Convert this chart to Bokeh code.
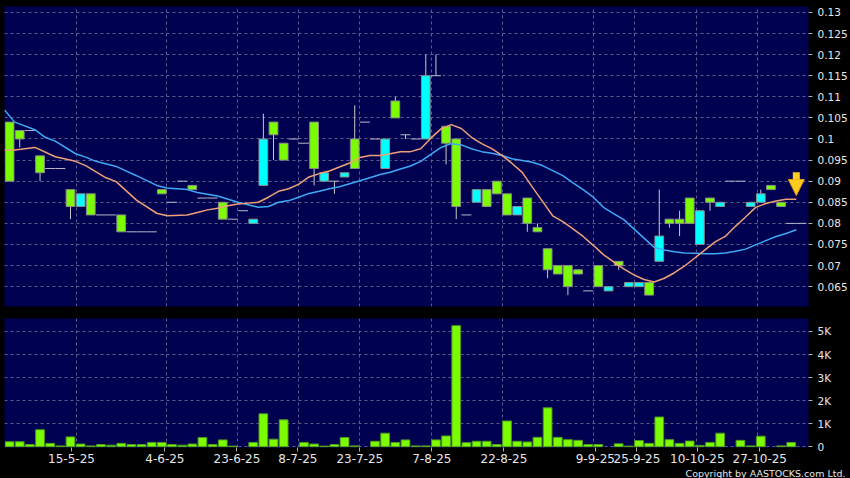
from bokeh.plotting import figure
from bokeh.layouts import column
from bokeh.models import Range1d, FixedTicker, ColumnDataSource, Title, Arrow, NormalHead
from bokeh.embed import file_html
from bokeh.resources import INLINE

# ---------------- data ----------------
open_ = [0.104, 0.102, 0.102, 0.096, 0.093, 0.093, 0.088, 0.084, 0.087, 0.082,
         0.082, 0.082, 0.078, 0.078, 0.078, 0.088, 0.085, 0.090, 0.089, 0.086,
         0.086, 0.085, 0.081, 0.083, 0.080, 0.089, 0.104, 0.099, 0.100, 0.099,
         0.104, 0.090, 0.090, 0.091, 0.100, 0.104, 0.100, 0.093, 0.109, 0.101,
         0.100, 0.100, 0.115, 0.103, 0.100, 0.082, 0.085, 0.088, 0.090, 0.087,
         0.082, 0.086, 0.079, 0.074, 0.070, 0.070, 0.069, 0.064, 0.070, 0.064,
         0.071, 0.065, 0.065, 0.066, 0.071, 0.081, 0.081, 0.086, 0.075, 0.086,
         0.084, 0.090, 0.090, 0.084, 0.085, 0.089, 0.085, 0.080, 0.080]
high_ = [0.104, 0.102, 0.102, 0.096, 0.093, 0.093, 0.088, 0.087, 0.087, 0.082,
         0.082, 0.082, 0.078, 0.078, 0.078, 0.088, 0.085, 0.090, 0.089, 0.086,
         0.086, 0.085, 0.081, 0.083, 0.081, 0.106, 0.104, 0.099, 0.100, 0.099,
         0.104, 0.092, 0.090, 0.092, 0.108, 0.104, 0.100, 0.100, 0.110, 0.101,
         0.100, 0.120, 0.120, 0.103, 0.100, 0.082, 0.088, 0.088, 0.090, 0.087,
         0.084, 0.086, 0.080, 0.074, 0.070, 0.070, 0.069, 0.064, 0.070, 0.065,
         0.071, 0.066, 0.066, 0.066, 0.088, 0.081, 0.083, 0.086, 0.083, 0.086,
         0.085, 0.090, 0.090, 0.085, 0.088, 0.089, 0.085, 0.080, 0.080]
low_ = [0.090, 0.098, 0.102, 0.090, 0.093, 0.093, 0.081, 0.084, 0.082, 0.082,
        0.082, 0.078, 0.078, 0.078, 0.078, 0.087, 0.085, 0.090, 0.088, 0.086,
        0.086, 0.081, 0.081, 0.083, 0.080, 0.089, 0.095, 0.095, 0.100, 0.099,
        0.089, 0.090, 0.087, 0.091, 0.093, 0.104, 0.100, 0.093, 0.105, 0.100,
        0.100, 0.100, 0.115, 0.094, 0.081, 0.082, 0.085, 0.084, 0.087, 0.082,
        0.082, 0.078, 0.078, 0.067, 0.068, 0.063, 0.068, 0.064, 0.065, 0.064,
        0.069, 0.065, 0.065, 0.063, 0.071, 0.079, 0.077, 0.080, 0.075, 0.083,
        0.084, 0.090, 0.090, 0.084, 0.085, 0.088, 0.084, 0.080, 0.080]
close_ = [0.090, 0.100, 0.102, 0.092, 0.093, 0.093, 0.084, 0.087, 0.082, 0.082,
          0.082, 0.078, 0.078, 0.078, 0.078, 0.087, 0.085, 0.090, 0.088, 0.086,
          0.086, 0.081, 0.081, 0.083, 0.081, 0.100, 0.101, 0.095, 0.100, 0.099,
          0.093, 0.092, 0.090, 0.092, 0.093, 0.104, 0.100, 0.100, 0.105, 0.101,
          0.100, 0.115, 0.115, 0.099, 0.084, 0.082, 0.088, 0.084, 0.087, 0.082,
          0.084, 0.080, 0.078, 0.069, 0.068, 0.065, 0.068, 0.064, 0.065, 0.065,
          0.070, 0.066, 0.066, 0.063, 0.077, 0.080, 0.080, 0.080, 0.083, 0.085,
          0.085, 0.090, 0.090, 0.085, 0.087, 0.088, 0.084, 0.080, 0.080]
volume = [220, 220, 100, 740, 150, 40, 430, 120, 40, 100,
          70, 150, 100, 100, 190, 190, 100, 70, 120, 400,
          100, 300, 30, 0, 190, 1430, 330, 1170, 0, 190,
          120, 30, 100, 400, 40, 0, 240, 590, 190, 300,
          40, 40, 300, 470, 5250, 180, 240, 240, 100, 1120,
          240, 210, 410, 1690, 410, 310, 280, 100, 100, 0,
          130, 30, 270, 150, 1290, 310, 150, 250, 60, 190,
          590, 0, 280, 40, 460, 0, 40, 190, 0]

# moving averages (read at session boundaries)
ma_short_idx = [-1, 0, 2, 4, 6, 7, 9, 10, 12, 14, 15, 17, 18,
                19, 20, 21, 22, 23, 24, 25, 26, 27, 28, 29, 30, 31,
                33, 34, 35, 36, 37, 38, 39, 40, 41, 42, 43, 44, 45, 46, 47, 48, 49, 50,
                51, 52, 53, 54, 55, 56, 57, 58, 59, 60, 61, 62, 63, 64, 65, 66, 67, 68,
                69, 70, 71, 72, 73, 74, 75, 76, 77]
ma_short = [0.0974, 0.0974, 0.0980, 0.0958, 0.0947, 0.0937, 0.0908, 0.0899, 0.0855, 0.0824, 0.0818, 0.0820, 0.0826,
            0.0832, 0.0836, 0.0842, 0.0846, 0.0848, 0.0850, 0.0862, 0.0876, 0.0882, 0.0893, 0.0910, 0.0918, 0.0924,
            0.0943, 0.0956, 0.0961, 0.0961, 0.0965, 0.0970, 0.0970, 0.0977, 0.1002, 0.1024, 0.1034, 0.1025, 0.1004,
            0.0989, 0.0977, 0.0961, 0.0942, 0.0921, 0.0886, 0.0852, 0.0818, 0.0804, 0.0787, 0.0769, 0.0748, 0.0726,
            0.0709, 0.0692, 0.0678, 0.0667, 0.0661, 0.0670, 0.0683, 0.0699, 0.0718, 0.0737, 0.0756, 0.0769, 0.0793,
            0.0815, 0.0838, 0.0847, 0.0853, 0.0857, 0.0857]
ma_long_idx = [-1, 0, 2, 3, 4, 6, 7, 8, 10, 12, 14, 15, 17, 18, 20, 22, 24,
               25, 26, 27, 28, 29, 30, 31, 32, 33, 34, 35, 36, 37, 38, 39, 40,
               42, 43, 44, 45, 46, 47, 48, 49, 50, 51, 52, 53, 54, 55, 56, 57, 58, 59,
               60, 61, 62, 63, 64, 65, 66, 67, 68, 69, 70, 71, 72, 73, 74, 75, 76, 77]
ma_long = [0.1069, 0.1040, 0.1022, 0.1004, 0.0995, 0.0965, 0.0957, 0.0947, 0.0935, 0.0913, 0.0890, 0.0884,
           0.0880, 0.0873, 0.0865, 0.0850, 0.0838,
           0.0840, 0.0850, 0.0854, 0.0862, 0.0871, 0.0876, 0.0882, 0.0887, 0.0894, 0.0901, 0.0908, 0.0916,
           0.0921, 0.0929, 0.0936, 0.0947,
           0.0980, 0.0989, 0.0986, 0.0977, 0.0970, 0.0966, 0.0961, 0.0953, 0.0949, 0.0945, 0.0937, 0.0925,
           0.0913, 0.0896, 0.0880, 0.0862, 0.0838, 0.0823, 0.0809, 0.0787, 0.0765, 0.0743, 0.0737, 0.0733,
           0.0730, 0.0729, 0.0728, 0.0728, 0.0730, 0.0734, 0.0739, 0.0749, 0.0759, 0.0769, 0.0776, 0.0785]

date_labels = ["15-5-25", "4-6-25", "23-6-25", "8-7-25", "23-7-25", "7-8-25",
               "22-8-25", "9-9-25", "25-9-25", "10-10-25", "27-10-25"]
date_tick_pos = [6.1, 15.3, 22.4, 28.4, 34.5, 41.6, 48.7, 57.7, 61.8, 67.75, 73.9]
grid_pos = [6.55, 15.5, 22.5, 28.5, 34.5, 41.55, 48.6, 57.55, 61.6, 67.65, 73.65]

price_ticks = [0.065, 0.07, 0.075, 0.08, 0.085, 0.09, 0.095, 0.1, 0.105, 0.11, 0.115, 0.12, 0.125, 0.13]
price_tick_labels = ["0.065", "0.07", "0.075", "0.08", "0.085", "0.09", "0.095", "0.1",
                     "0.105", "0.11", "0.115", "0.12", "0.125", "0.13"]
vol_ticks = [0, 1000, 2000, 3000, 4000, 5000]
vol_tick_labels = ["0", "1K", "2K", "3K", "4K", "5K"]

# ---------------- styling ----------------
BG = "#000000"
PLOT_BG = "#000050"
GRID = "#5c5c8c"
GREEN = "#7CFC00"
CYAN = "#00FFFF"
TXT = "#E6E6E6"
FONT = "DejaVu Sans"

W = 850
xr = Range1d(-0.5, 78.7)

idx = list(range(len(close_)))
src = ColumnDataSource(dict(
    x=idx, o=open_, h=high_, l=low_, c=close_,
    top=[max(a, b) for a, b in zip(open_, close_)],
    bot=[min(a, b) for a, b in zip(open_, close_)],
))
up_src = ColumnDataSource({k: [v[i] for i in idx if close_[i] > open_[i]] for k, v in src.data.items()})
dn_src = ColumnDataSource({k: [v[i] for i in idx if close_[i] < open_[i]] for k, v in src.data.items()})
dj_src = ColumnDataSource({k: [v[i] for i in idx if close_[i] == open_[i]] for k, v in src.data.items()})
wk_src = ColumnDataSource({k: [v[i] for i in idx if high_[i] > low_[i]] for k, v in src.data.items()})


def style(p):
    p.background_fill_color = PLOT_BG
    p.border_fill_color = BG
    p.outline_line_color = None
    p.xgrid.ticker = FixedTicker(ticks=grid_pos)
    for g in (p.xgrid, p.ygrid):
        g.grid_line_color = GRID
        g.grid_line_dash = "3 3"
        g.grid_line_width = 1
    ax = p.yaxis[0]
    ax.axis_line_color = None
    ax.major_tick_line_color = "#B0B0B0"
    ax.major_tick_out = 4
    ax.major_tick_in = 0
    ax.minor_tick_line_color = None
    ax.major_label_text_color = TXT
    ax.major_label_text_font = FONT
    ax.major_label_text_font_size = "10.5px"
    ax.major_label_standoff = 5


# ---------------- price panel ----------------
p1 = figure(width=W, height=312, x_range=xr, y_range=Range1d(0.0603, 0.1314),
            y_axis_location="right", output_backend="svg", toolbar_location=None,
            min_border_left=4, min_border_right=42, min_border_top=6, min_border_bottom=6)
style(p1)
p1.xaxis.visible = False
p1.yaxis.ticker = FixedTicker(ticks=price_ticks)
p1.yaxis.major_label_overrides = dict(zip(price_ticks, price_tick_labels))

p1.segment(x0="x", y0="l", x1="x", y1="h", source=wk_src, line_color="#C8C8C8", line_width=1)
p1.vbar(x="x", width=0.86, top="top", bottom="bot", source=dn_src,
        fill_color=GREEN, line_color="#8C8C8C", line_width=1)
p1.vbar(x="x", width=0.86, top="top", bottom="bot", source=up_src,
        fill_color=CYAN, line_color="#8C8C8C", line_width=1)
p1.scatter(x="x", y="c", source=dj_src, marker="dash", size=10,
           line_color="#B8B8C8", line_width=1)

p1.line(x=[i + 0.5 for i in ma_long_idx], y=ma_long, line_color="#3FA9F5", line_width=1.5)
p1.line(x=[i + 0.5 for i in ma_short_idx], y=ma_short, line_color="#F0A078", line_width=1.5)

arrow_x = ma_short_idx[-1] + 0.5
arrow_tip = ma_short[-1] + 0.0009
p1.add_layout(Arrow(end=NormalHead(size=16, fill_color="#FFCC22", line_color="#E89A00", line_width=1),
                    x_start=arrow_x, y_start=arrow_tip + 0.0055, x_end=arrow_x, y_end=arrow_tip,
                    line_color="#FFCC22", line_width=7))

# ---------------- volume panel ----------------
p2 = figure(width=W, height=166, x_range=xr, y_range=Range1d(-30, 5560),
            y_axis_location="right", output_backend="svg", toolbar_location=None,
            min_border_left=4, min_border_right=42, min_border_top=6, min_border_bottom=3)
style(p2)
p2.yaxis.ticker = FixedTicker(ticks=vol_ticks)
p2.yaxis.major_label_overrides = dict(zip(vol_ticks, vol_tick_labels))
p2.xaxis.ticker = FixedTicker(ticks=date_tick_pos)
p2.xaxis.major_label_overrides = dict(zip(date_tick_pos, date_labels))
xa = p2.xaxis[0]
xa.axis_line_color = None
xa.major_tick_line_color = "#B0B0B0"
xa.major_tick_out = 4
xa.major_tick_in = 0
xa.minor_tick_line_color = None
xa.major_label_text_color = TXT
xa.major_label_text_font = FONT
xa.major_label_text_font_size = "12px"
xa.major_label_standoff = 2

vol_idx = [i for i in idx if volume[i] > 0]
vsrc = ColumnDataSource(dict(x=vol_idx, v=[volume[i] for i in vol_idx]))
p2.vbar(x="x", width=0.86, top="v", bottom=0, source=vsrc,
        fill_color=GREEN, line_color="#4E9A1E", line_width=1)

p2.add_layout(Title(text="Copyright by AASTOCKS.com Ltd.", align="right", offset=-37,
                    text_font=FONT, text_font_size="9.5px", text_font_style="normal",
                    text_color=TXT, standoff=0), "below")

layout = column(p1, p2, spacing=0, styles={"background-color": BG})
open("out.html", "w").write(file_html(layout, INLINE))
